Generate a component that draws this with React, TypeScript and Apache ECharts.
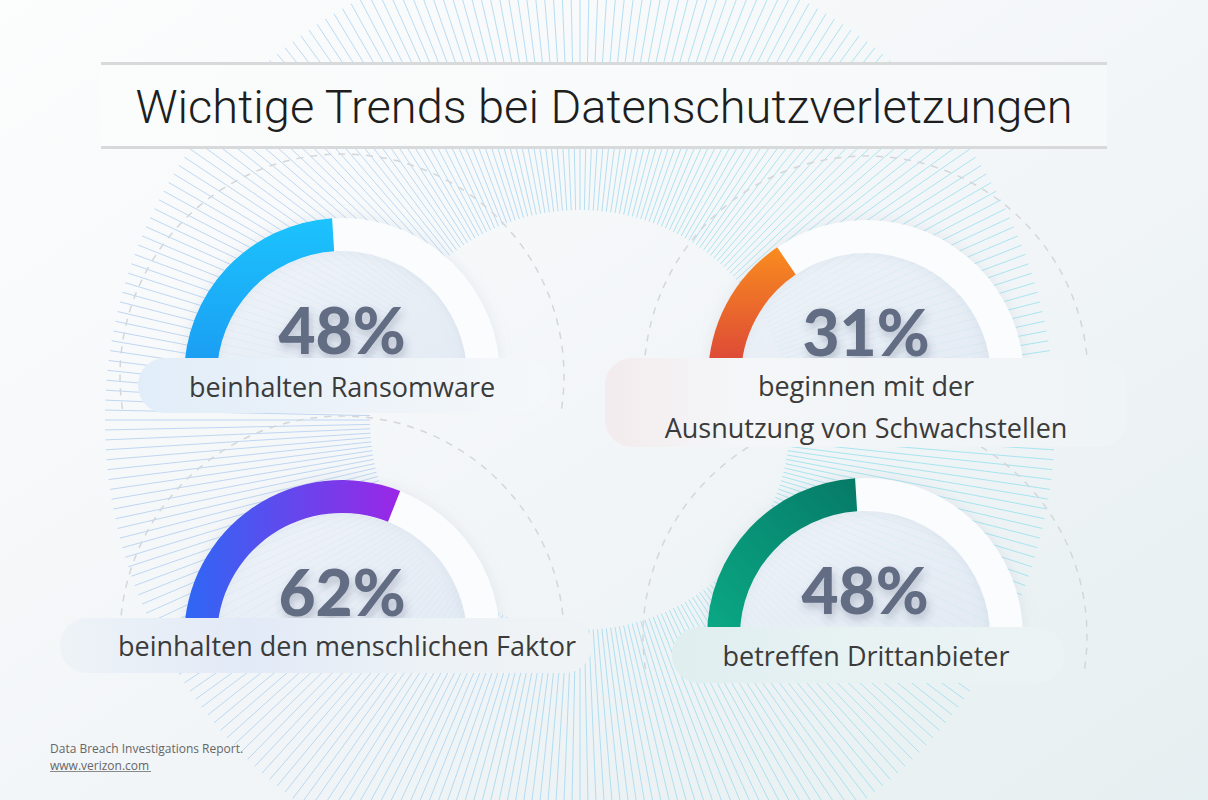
import React, { useEffect, useRef } from 'react';
import * as echarts from 'echarts';

const TITLE = 'Wichtige Trends bei Datenschutzverletzungen';
const categories = [
  'beinhalten Ransomware',
  'beginnen mit der\nAusnutzung von Schwachstellen',
  'beinhalten den menschlichen Faktor',
  'betreffen Drittanbieter',
];
const values = [48, 31, 62, 48];
const sourceLines = ['Data Breach Investigations Report.', 'www.verizon.com'];

const W = 1208;
const H = 800;

// layout (positions only)
const layout = [
  { cx: 342, cy: 376, lx: 342, ly: 386, pill: [138, 358, 412, 55] },
  { cx: 866, cy: 378, lx: 866, ly: 406, pill: [605, 358, 522, 89] },
  { cx: 342, cy: 638, lx: 347, ly: 645, pill: [60, 618, 532, 55] },
  { cx: 865, cy: 636, lx: 866, ly: 655, pill: [672, 627, 392, 56] },
];

const arcGradients = [
  { dir: [0, 0, 0, 1], stops: ['#1cc3fd', '#1b9af2'] },
  { dir: [0, 0, 0, 1], stops: ['#f98c1e', '#d9403b'] },
  { dir: [0, 0, 1, 0], stops: ['#2d68f4', '#9b26e6'] },
  { dir: [0, 1, 1, 0], stops: ['#0aa985', '#067a67'] },
];

const pillStops = [
  [[0, '#e1edf9'], [0.55, '#edf3f9'], [1, '#f5f8fa']],
  [[0, '#f3ebed'], [0.25, '#f4f6f8'], [1, '#eff4f6']],
  [[0, '#eef3f7'], [0.35, '#e2eaf7'], [0.7, '#edf2f6'], [1, '#eff3f6']],
  [[0, '#dfeeef'], [0.5, '#e8f2f3'], [1, '#ecf3f5']],
];

function buildOption() {
  const elements: any[] = [];
  // background
  elements.push({
    type: 'rect',
    silent: true,
    z: 0,
    shape: { x: 0, y: 0, width: W, height: H },
    style: {
      fill: new echarts.graphic.LinearGradient(0, 0, 1, 1, [
        { offset: 0, color: '#fcfdfd' },
        { offset: 0.5, color: '#f3f6f8' },
        { offset: 1, color: '#e6eff1' },
      ]),
    },
  });
  // sunburst hatch
  const sx = 580, sy = 420, rIn = 210, rOut = 475;
  for (let a = 0; a < 360; a += 1.2) {
    const t = (a * Math.PI) / 180;
    const c = Math.cos(t), s = Math.sin(t);
    const k = (c + 1) / 2;
    const col = `rgb(${Math.round(168 - 30 * k)},${Math.round(200 + 22 * k)},${Math.round(240 - 4 * k)})`;
    elements.push({
      type: 'line',
      silent: true,
      z: 1,
      shape: { x1: sx + rIn * c, y1: sy + rIn * s, x2: sx + rOut * c, y2: sy + rOut * s },
      style: { stroke: col, lineWidth: 1, opacity: 0.7 },
    });
  }
  // dashed circles
  layout.forEach((l) => {
    elements.push({
      type: 'arc',
      silent: true,
      z: 1,
      shape: { cx: l.cx, cy: l.cy, r: 222, startAngle: Math.PI - 0.15, endAngle: 2 * Math.PI + 0.15 },
      style: { stroke: '#d3d7da', lineWidth: 1.5, lineDash: [7, 7], fill: null },
    });
  });
  // title band
  elements.push({
    type: 'rect', silent: true, z: 2,
    shape: { x: 101, y: 63, width: 1006, height: 84 },
    style: {
      fill: new echarts.graphic.LinearGradient(0, 0, 1, 0, [
        { offset: 0, color: '#fbfcfc' },
        { offset: 1, color: '#f6f9fa' },
      ]),
    },
  });
  elements.push({ type: 'rect', silent: true, z: 2, shape: { x: 101, y: 62, width: 1006, height: 3 }, style: { fill: '#d8d9da' } });
  elements.push({ type: 'rect', silent: true, z: 2, shape: { x: 101, y: 146, width: 1006, height: 3 }, style: { fill: '#d8d9da' } });
  elements.push({
    type: 'text', silent: true, z: 6, x: 604, y: 106,
    style: { text: TITLE, fill: '#1e1e1e', fontSize: 47, fontWeight: 300, fontFamily: 'Roboto', align: 'center', verticalAlign: 'middle' },
  });
  // inner discs
  layout.forEach((l) => {
    elements.push({
      type: 'sector', silent: true, z: 2,
      shape: { cx: l.cx, cy: l.cy, r0: 0, r: 125, startAngle: Math.PI, endAngle: 2 * Math.PI },
      style: {
        fill: new echarts.graphic.LinearGradient(0, 0, 1, 1, [
          { offset: 0, color: '#f1f5fa' },
          { offset: 1, color: '#e3ebf5' },
        ]),
        opacity: 0.82,
        shadowBlur: 14,
        shadowOffsetX: 4,
        shadowColor: 'rgba(110,140,180,0.18)',
      },
    });
  });
  // pills and labels
  layout.forEach((l, i) => {
    const [x, y, w, h] = l.pill;
    elements.push({
      type: 'rect', silent: true, z: 5,
      shape: { x, y, width: w, height: h, r: 27 },
      style: {
        fill: new echarts.graphic.LinearGradient(0, 0, 1, 0, pillStops[i].map(([o, c]) => ({ offset: o as number, color: c as string }))),
      },
    });
    elements.push({
      type: 'text', silent: true, z: 6, x: l.lx, y: l.ly,
      style: {
        text: categories[i], fill: '#3b3b3b', fontSize: 27, fontFamily: 'Open Sans', fontWeight: 400,
        align: 'center', verticalAlign: 'middle', lineHeight: 42,
      },
    });
  });
  // footer
  elements.push({
    type: 'text', silent: true, z: 6, x: 50, y: 748,
    style: { text: sourceLines[0], fill: '#666666', fontSize: 12, fontFamily: 'Open Sans', fontWeight: 500, align: 'left', verticalAlign: 'middle' },
  });
  elements.push({
    type: 'text', silent: true, z: 6, x: 50, y: 765,
    style: { text: sourceLines[1], fill: '#666666', fontSize: 12, fontFamily: 'Open Sans', fontWeight: 500, align: 'left', verticalAlign: 'middle' },
  });
  elements.push({ type: 'rect', silent: true, z: 6, shape: { x: 50, y: 771, width: 101, height: 1 }, style: { fill: '#8a8a8a' } });

  const series = values.map((v, i) => {
    const l = layout[i];
    const g = arcGradients[i];
    return {
      type: 'gauge',
      z: 3,
      silent: true,
      center: [l.cx, l.cy],
      radius: 158,
      startAngle: 180,
      endAngle: 0,
      min: 0,
      max: 100,
      axisLine: {
        lineStyle: {
          width: 33,
          color: [[1, '#fbfcfd']],
          shadowBlur: 14,
          shadowColor: 'rgba(140,160,185,0.18)',
        },
      },
      progress: {
        show: true,
        width: 33,
        itemStyle: {
          color: new echarts.graphic.LinearGradient(g.dir[0], g.dir[1], g.dir[2], g.dir[3], [
            { offset: 0, color: g.stops[0] },
            { offset: 1, color: g.stops[1] },
          ]),
        },
      },
      pointer: { show: false },
      anchor: { show: false },
      axisTick: { show: false },
      splitLine: { show: false },
      axisLabel: { show: false },
      title: { show: false },
      detail: {
        offsetCenter: [0, -47],
        formatter: '{value}%',
        fontSize: 64,
        fontWeight: 900,
        fontFamily: 'Lato',
        color: '#626d84',
        textShadowColor: 'rgba(60,70,95,0.28)',
        textShadowBlur: 8,
        textShadowOffsetX: 2,
        textShadowOffsetY: 5,
      },
      data: [{ value: v, name: categories[i] }],
    };
  });

  return {
    animation: false,
    graphic: { elements },
    series,
  };
}

export default function App() {
  const ref = useRef<HTMLDivElement>(null);
  useEffect(() => {
    if (!ref.current) return;
    const chart = echarts.init(ref.current, undefined, { renderer: 'svg' });
    chart.setOption(buildOption() as any);
    return () => chart.dispose();
  }, []);
  return (
    <div
      ref={ref}
      style={{ position: 'fixed', left: 0, top: 0, width: W, height: H, background: '#f4f7f8' }}
    />
  );
}
